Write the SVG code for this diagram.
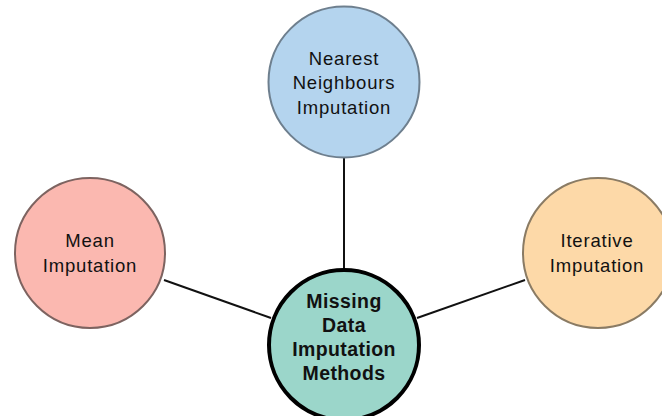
<svg xmlns="http://www.w3.org/2000/svg" width="662" height="416" viewBox="0 0 662 416">
  <style>
    .lbl { font-family: "Liberation Sans", Arial, sans-serif; font-size: 18.5px; letter-spacing: 0.8px; fill: #111; text-anchor: middle; }
    .hub { font-family: "Liberation Sans", Arial, sans-serif; font-size: 19.5px; letter-spacing: 0.4px; font-weight: bold; fill: #111; text-anchor: middle; }
    .edge { stroke: #111; stroke-width: 2; fill: none; }
    .node { stroke-width: 2; }
  </style>
  <rect width="662" height="416" fill="#ffffff"/>
  <g id="connectors">
    <line class="edge" x1="344" y1="157" x2="344" y2="270"/>
    <line class="edge" x1="164" y1="280" x2="271" y2="318"/>
    <line class="edge" x1="417" y1="318" x2="525" y2="280"/>
  </g>
  <g id="nearest-neighbours">
    <circle class="node" cx="344" cy="82" r="75.5" fill="#b4d4ee" stroke="#6e7f8e"/>
    <text class="lbl" x="344" y="65">Nearest</text>
    <text class="lbl" x="344" y="89">Neighbours</text>
    <text class="lbl" x="344" y="114">Imputation</text>
  </g>
  <g id="mean">
    <circle class="node" cx="90" cy="253" r="75" fill="#fbb8b0" stroke="#7d6360"/>
    <text class="lbl" x="90" y="247">Mean</text>
    <text class="lbl" x="90" y="272">Imputation</text>
  </g>
  <g id="iterative">
    <circle class="node" cx="598" cy="253" r="75" fill="#fdd9a8" stroke="#8a7b64"/>
    <text class="lbl" x="597" y="247">Iterative</text>
    <text class="lbl" x="597" y="272">Imputation</text>
  </g>
  <g id="missing-data">
    <circle cx="344" cy="345" r="75" fill="#9bd6ca" stroke="#000" stroke-width="4"/>
    <text class="hub" x="344" y="308">Missing</text>
    <text class="hub" x="344" y="332">Data</text>
    <text class="hub" x="344" y="356">Imputation</text>
    <text class="hub" x="344" y="380">Methods</text>
  </g>
</svg>
